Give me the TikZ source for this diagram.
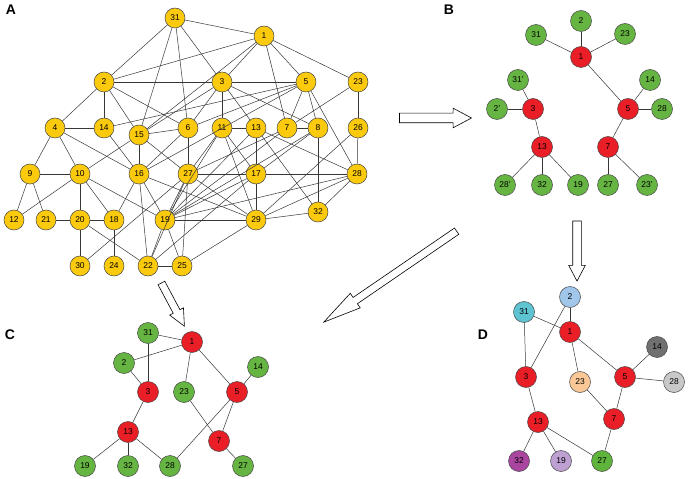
\documentclass[tikz,border=0pt]{standalone}
\usepackage{fontspec}
\setmainfont{Liberation Sans}
\usetikzlibrary{shapes.arrows}
\definecolor{nodeline}{RGB}{70,70,70}
\definecolor{edgeline}{RGB}{55,55,55}
\definecolor{nodeyellow}{RGB}{252,202,12}
\definecolor{nodegreen}{RGB}{102,181,67}
\definecolor{nodered}{RGB}{234,30,38}
\definecolor{dblue}{RGB}{160,198,234}
\definecolor{dcyan}{RGB}{94,196,210}
\definecolor{ddark}{RGB}{112,112,112}
\definecolor{dlight}{RGB}{200,200,200}
\definecolor{dpeach}{RGB}{250,200,150}
\definecolor{dpurple}{RGB}{170,70,160}
\definecolor{dlilac}{RGB}{190,160,210}
\definecolor{dgreen}{RGB}{95,180,60}
\newcommand{\nodefont}{\fontsize{8.5}{9}\selectfont}
\newcommand{\drawyel}{\node[draw=nodeline,circle,fill=nodeyellow,minimum size=20bp,inner sep=0pt,font=\nodefont,text=black]}
\newcommand{\drawgrn}{\node[draw=nodeline,circle,fill=nodegreen,minimum size=21bp,inner sep=0pt,font=\nodefont,text=black]}
\newcommand{\drawred}{\node[draw=nodeline,circle,fill=nodered,minimum size=21bp,inner sep=0pt,font=\nodefont,text=black]}
\newcommand{\drawcol}[1]{\node[draw=nodeline,circle,fill=#1,minimum size=21bp,inner sep=0pt,font=\nodefont,text=black]}
\newcommand{\drawpanel}{\node[font=\fontsize{14}{16}\selectfont\bfseries,inner sep=0pt,text=black]}

\begin{document}
\begin{tikzpicture}[x=1bp,y=-1bp,line width=0.5bp,edgeline,
  hollow/.style={single arrow,draw=black,fill=white,line width=0.6bp,inner xsep=0pt,single arrow head indent=0pt}]
\useasboundingbox (0,0) rectangle (689,479);
%panel labels
\drawpanel (labA) at (11,10) {A};
\drawpanel (labB) at (449,10) {B};
\drawpanel (labC) at (10,335) {C};
\drawpanel (labD) at (483,335) {D};

%graph A
\drawyel (a31) at (175,18) {31};
\drawyel (a1) at (264,36) {1};
\drawyel (a2) at (104,82) {2};
\drawyel (a3) at (222,82) {3};
\drawyel (a5) at (306,82) {5};
\drawyel (a23) at (358,82) {23};
\drawyel (a4) at (55,128) {4};
\drawyel (a14) at (104,128) {14};
\drawyel (a15) at (139,135) {15};
\drawyel (a6) at (188,128) {6};
\drawyel (a11) at (222,128) {11};
\drawyel (a13) at (256,128) {13};
\drawyel (a7) at (287,128) {7};
\drawyel (a8) at (318,128) {8};
\drawyel (a26) at (358,128) {26};
\drawyel (a9) at (30,174) {9};
\drawyel (a10) at (80,174) {10};
\drawyel (a16) at (139,174) {16};
\drawyel (a27) at (188,174) {27};
\drawyel (a17) at (256,174) {17};
\drawyel (a28) at (357,174) {28};
\drawyel (a12) at (14,220) {12};
\drawyel (a21) at (46,220) {21};
\drawyel (a20) at (80,220) {20};
\drawyel (a18) at (114,220) {18};
\drawyel (a19) at (165,220) {19};
\drawyel (a29) at (256,220) {29};
\drawyel (a32) at (318,212) {32};
\drawyel (a30) at (80,266) {30};
\drawyel (a24) at (114,266) {24};
\drawyel (a22) at (148,266) {22};
\drawyel (a25) at (182,266) {25};

\draw (a31) -- (a1);
\draw (a31) -- (a2);
\draw (a31) -- (a3);
\draw (a31) -- (a15);
\draw (a31) -- (a6);
\draw (a1) -- (a2);
\draw (a1) -- (a3);
\draw (a1) -- (a15);
\draw (a1) -- (a7);
\draw (a1) -- (a5);
\draw (a1) -- (a23);
\draw (a2) -- (a3);
\draw (a2) -- (a4);
\draw (a2) -- (a14);
\draw (a2) -- (a15);
\draw (a2) -- (a6);
\draw (a3) -- (a5);
\draw (a3) -- (a11);
\draw (a3) -- (a13);
\draw (a3) -- (a8);
\draw (a3) -- (a6);
\draw (a3) -- (a15);
\draw (a5) -- (a14);
\draw (a5) -- (a6);
\draw (a5) -- (a16);
\draw (a5) -- (a7);
\draw (a5) -- (a8);
\draw (a5) -- (a28);
\draw (a23) -- (a7);
\draw (a23) -- (a26);
\draw (a4) -- (a14);
\draw (a4) -- (a9);
\draw (a4) -- (a10);
\draw (a4) -- (a16);
\draw (a14) -- (a16);
\draw (a15) -- (a6);
\draw (a15) -- (a16);
\draw (a15) -- (a10);
\draw (a15) -- (a27);
\draw (a6) -- (a27);
\draw (a6) -- (a16);
\draw (a11) -- (a13);
\draw (a11) -- (a27);
\draw (a11) -- (a19);
\draw (a11) -- (a29);
\draw (a11) -- (a17);
\draw (a13) -- (a17);
\draw (a13) -- (a28);
\draw (a13) -- (a32);
\draw (a13) -- (a19);
\draw (a7) -- (a8);
\draw (a7) -- (a19);
\draw (a7) -- (a27);
\draw (a8) -- (a32);
\draw (a8) -- (a19);
\draw (a8) -- (a17);
\draw (a26) -- (a28);
\draw (a26) -- (a29);
\draw (a9) -- (a10);
\draw (a9) -- (a12);
\draw (a9) -- (a21);
\draw (a10) -- (a12);
\draw (a10) -- (a20);
\draw (a10) -- (a18);
\draw (a10) -- (a19);
\draw (a16) -- (a18);
\draw (a16) -- (a19);
\draw (a16) -- (a22);
\draw (a16) -- (a29);
\draw (a27) -- (a17);
\draw (a27) -- (a19);
\draw (a27) -- (a29);
\draw (a27) -- (a25);
\draw (a27) -- (a30);
\draw (a27) -- (a22);
\draw (a17) -- (a28);
\draw (a17) -- (a29);
\draw (a17) -- (a19);
\draw (a17) -- (a22);
\draw (a28) -- (a29);
\draw (a28) -- (a32);
\draw (a28) -- (a19);
\draw (a21) -- (a20);
\draw (a20) -- (a18);
\draw (a20) -- (a30);
\draw (a20) -- (a22);
\draw (a18) -- (a24);
\draw (a19) -- (a29);
\draw (a19) -- (a22);
\draw (a19) -- (a25);
\draw (a22) -- (a25);
\draw (a25) -- (a29);
\draw (a29) -- (a32);

%tree B
\drawgrn (b2) at (581,21) {2};
\drawgrn (b31) at (536,35) {31};
\drawgrn (b23) at (625,34) {23};
\drawred (b1) at (581,57) {1};
\drawgrn (b31p) at (518,80) {31'};
\drawgrn (b14) at (650,80) {14};
\drawgrn (b2p) at (497,109) {2'};
\drawred (b3) at (533,109) {3};
\drawred (b5) at (628,109) {5};
\drawgrn (b28) at (662,109) {28};
\drawred (b13) at (542,147) {13};
\drawred (b7) at (608,147) {7};
\drawgrn (b28p) at (505,185) {28'};
\drawgrn (b32) at (542,185) {32};
\drawgrn (b19) at (578,185) {19};
\drawgrn (b27) at (608,185) {27};
\drawgrn (b23p) at (647,185) {23'};

\draw (b1) -- (b31);
\draw (b1) -- (b2);
\draw (b1) -- (b23);
\draw (b1) -- (b5);
\draw (b3) -- (b31p);
\draw (b3) -- (b2p);
\draw (b3) -- (b13);
\draw (b5) -- (b14);
\draw (b5) -- (b28);
\draw (b5) -- (b7);
\draw (b13) -- (b28p);
\draw (b13) -- (b32);
\draw (b13) -- (b19);
\draw (b7) -- (b27);
\draw (b7) -- (b23p);

%subgraph C
\drawgrn (c31) at (148,333) {31};
\drawred (c1) at (192,342) {1};
\drawgrn (c2) at (124,363) {2};
\drawgrn (c14) at (258,367) {14};
\drawred (c3) at (148,392) {3};
\drawgrn (c23) at (184,392) {23};
\drawred (c5) at (237,392) {5};
\drawred (c13) at (128,432) {13};
\drawred (c7) at (219,441) {7};
\drawgrn (c19) at (85,466) {19};
\drawgrn (c32) at (128,466) {32};
\drawgrn (c28) at (170,466) {28};
\drawgrn (c27) at (243,466) {27};

\draw (c31) -- (c1);
\draw (c2) -- (c1);
\draw (c31) -- (c3);
\draw (c2) -- (c3);
\draw (c1) -- (c23);
\draw (c1) -- (c5);
\draw (c5) -- (c14);
\draw (c5) -- (c28);
\draw (c5) -- (c7);
\draw (c23) -- (c7);
\draw (c7) -- (c27);
\draw (c3) -- (c13);
\draw (c13) -- (c19);
\draw (c13) -- (c32);
\draw (c13) -- (c28);

%coloured D
\drawcol{dblue} (d2) at (570,297) {2};
\drawcol{dcyan} (d31) at (524,312) {31};
\drawcol{nodered} (d1) at (570,332) {1};
\drawcol{ddark} (d14) at (657,347) {14};
\drawcol{nodered} (d3) at (526,377) {3};
\drawcol{dpeach} (d23) at (580,382) {23};
\drawcol{nodered} (d5) at (625,377) {5};
\drawcol{dlight} (d28) at (674,382) {28};
\drawcol{nodered} (d13) at (538,422) {13};
\drawcol{nodered} (d7) at (614,419) {7};
\drawcol{dpurple} (d32) at (519,461) {32};
\drawcol{dlilac} (d19) at (561,461) {19};
\drawcol{dgreen} (d27) at (602,461) {27};

\draw (d2) -- (d1);
\draw (d2) -- (d3);
\draw (d31) -- (d1);
\draw (d31) -- (d3);
\draw (d1) -- (d23);
\draw (d1) -- (d5);
\draw (d5) -- (d14);
\draw (d5) -- (d28);
\draw (d5) -- (d7);
\draw (d23) -- (d7);
\draw (d3) -- (d13);
\draw (d13) -- (d32);
\draw (d13) -- (d19);
\draw (d13) -- (d27);
\draw (d7) -- (d27);

%hollow arrows between panels
\node[hollow,minimum height=72bp,inner ysep=4.5bp,single arrow head extend=5bp,single arrow tip angle=56] (arrAB) at (431,118) {};
\node[hollow,minimum height=60bp,inner ysep=4bp,single arrow head extend=4bp,single arrow tip angle=56,rotate=-90] (arrBD) at (577,247) {};
\node[hollow,minimum height=49bp,inner ysep=3.5bp,single arrow head extend=4bp,single arrow tip angle=50,rotate=-62] (arrAC) at (171,301) {};
\node[hollow,minimum height=161bp,inner ysep=3.5bp,single arrow head extend=5bp,single arrow tip angle=26,rotate=-145.6] (arrBC) at (397,272) {};
\end{tikzpicture}
\end{document}
